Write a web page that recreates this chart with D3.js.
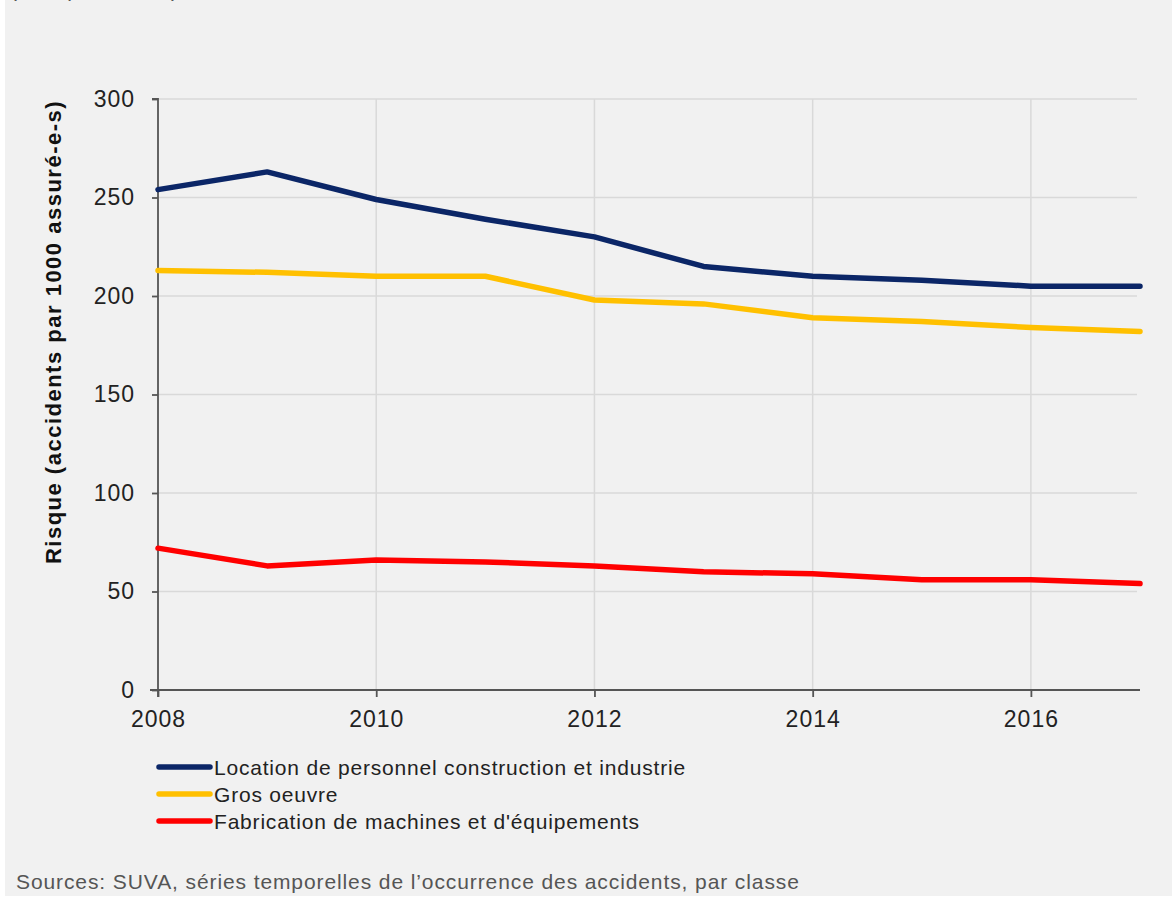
<!DOCTYPE html>
<html><head><meta charset="utf-8">
<script src="https://cdn.jsdelivr.net/npm/d3@7"></script>
<style>body{margin:0;background:#fff;}svg{display:block;}</style>
</head><body>
<svg id="c" width="1172" height="898"></svg>
<script>
const years = [2008,2009,2010,2011,2012,2013,2014,2015,2016,2017];
const locationPersonnel = [254,263,249,239,230,215,210,208,205,205];
const grosOeuvre = [213,212,210,210,198,196,189,187,184,182];
const fabricationMachines = [72,63,66,65,63,60,59,56,56,54];
const seriesNames = ["Location de personnel construction et industrie","Gros oeuvre","Fabrication de machines et d'équipements"];
const seriesColors = ["#0b2667","#ffc000","#ff0000"];
const yTicks = [0,50,100,150,200,250,300];
const xTicks = [2008,2010,2012,2014,2016];

const svg = d3.select("#c");
const font = "'Liberation Sans', Arial, sans-serif";
svg.append("rect").attr("x",5).attr("y",0).attr("width",1167).attr("height",896).attr("fill","#f1f1f1");
svg.append("text").attr("x",10).attr("y",-3).attr("font-family",font).attr("font-size",21)
 .attr("letter-spacing",0.8).attr("fill","#555").text("(taux par classe)");

const x = d3.scaleLinear().domain([2008,2017]).range([158,1140]);
const y = d3.scaleLinear().domain([0,300]).range([690,99]);

const g = svg.append("g");
// grid
g.selectAll(".hg").data(yTicks.filter(d=>d>0)).join("line")
 .attr("x1",158).attr("x2",1137).attr("y1",d=>y(d)).attr("y2",d=>y(d))
 .attr("stroke","#d9d9d9").attr("stroke-width",1.5);
g.selectAll(".vg").data(xTicks.filter(d=>d>2008)).join("line")
 .attr("x1",d=>x(d)).attr("x2",d=>x(d)).attr("y1",99).attr("y2",690)
 .attr("stroke","#d9d9d9").attr("stroke-width",1.5);

// axes
const yAxis = g.append("g").attr("transform","translate(158,0)")
 .call(d3.axisLeft(y).tickValues(yTicks).tickSize(6).tickPadding(17));
const xAxis = g.append("g").attr("transform","translate(0,690)")
 .call(d3.axisBottom(x).tickValues(xTicks).tickFormat(d3.format("d")).tickSize(7).tickPadding(14));
[yAxis,xAxis].forEach(a=>{
  a.select(".domain").attr("stroke","#555").attr("stroke-width",1.8);
  a.selectAll(".tick line").attr("stroke","#555").attr("stroke-width",1.8);
  a.selectAll(".tick text").attr("font-family",font).attr("font-size",23)
   .attr("letter-spacing",1).attr("fill","#222");
});
yAxis.select(".domain").attr("d","M-6,99H0V697");
xAxis.select(".domain").attr("d","M150,0H1140");

// lines
const data = [locationPersonnel, grosOeuvre, fabricationMachines];
const line = d3.line().x((d,i)=>x(years[i])).y(d=>y(d));
g.selectAll(".series").data(data).join("path")
 .attr("d",line).attr("fill","none")
 .attr("stroke",(d,i)=>seriesColors[i]).attr("stroke-width",5.5)
 .attr("stroke-linecap","round").attr("stroke-linejoin","round");

// y label
svg.append("text").attr("transform","translate(61,332) rotate(-90)")
 .attr("text-anchor","middle").attr("font-family",font).attr("font-size",22)
 .attr("letter-spacing",1.5)
 .attr("font-weight","bold").attr("fill","#111").text("Risque (accidents par 1000 assuré-e-s)");

// legend
const leg = svg.append("g");
seriesNames.forEach((n,i)=>{
  const ly = 767 + i*27;
  leg.append("line").attr("x1",159).attr("x2",210).attr("y1",ly).attr("y2",ly)
   .attr("stroke",seriesColors[i]).attr("stroke-width",5.5).attr("stroke-linecap","round");
  leg.append("text").attr("x",214).attr("y",ly+8).attr("font-family",font).attr("font-size",21)
   .attr("letter-spacing",0.8).attr("fill","#222").text(n);
});

svg.append("text").attr("x",16).attr("y",889).attr("font-family",font).attr("font-size",21)
 .attr("letter-spacing",0.9).attr("fill","#555").text("Sources: SUVA, séries temporelles de l’occurrence des accidents, par classe");
</script>
</body></html>
